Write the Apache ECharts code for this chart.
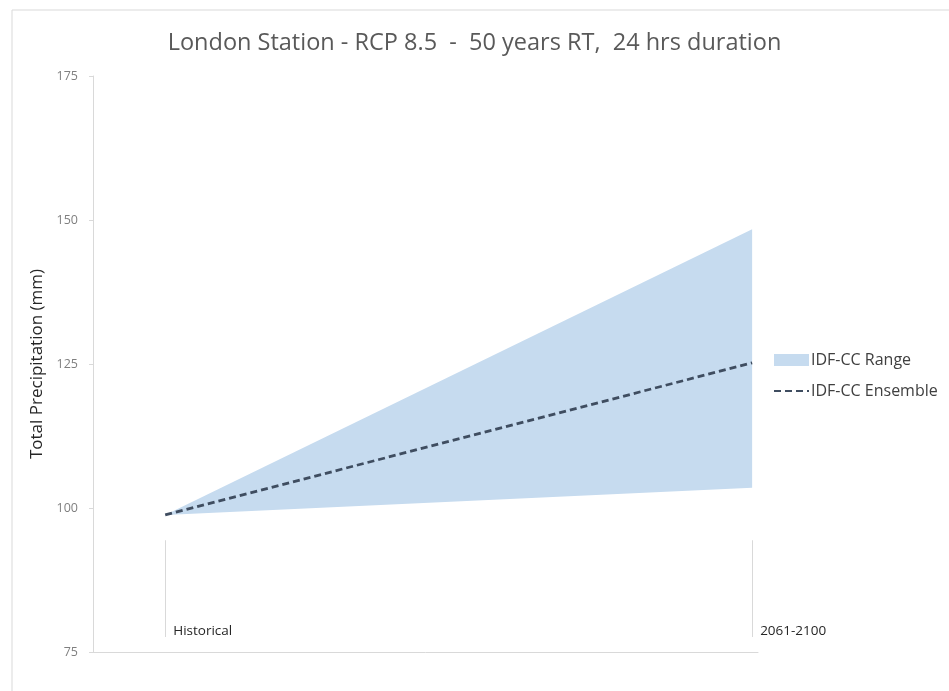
<!DOCTYPE html>
<html>
<head>
<meta charset="utf-8">
<script src="https://cdn.jsdelivr.net/npm/echarts@6/dist/echarts.min.js"></script>
<style>
  html, body { margin: 0; padding: 0; background: #ffffff; }
  #chart { width: 949px; height: 691px; }
</style>
</head>
<body>
<div id="chart"></div>
<script>
// Periods on the horizontal axis
const periods = ['Historical', '2061-2100'];
// Positions of the periods along the x axis
const periodPos = [0, 1];
// Climate-change range bounds and ensemble mean (mm)
const rangeLower = [98.8, 103.5];
const rangeUpper = [98.8, 148.4];
const ensemble = [98.8, 125.2];
// Y axis ticks
const yMin = 75, yMax = 175, yStep = 25;

const FONT = '"Open Sans", "Noto Sans", sans-serif';
const bandColor = '#c6dbef';
const lineColor = '#3f4d60';
const axisGrey = '#d9d9d9';

// Extent of the short separator lines above each period label (mm)
const sepTop = 94.4, sepBottom = 77.6;

const bandData = periodPos.map((x, i) => [x, rangeLower[i], rangeUpper[i]]);
const ensPts = periodPos.map((x, i) => [x, ensemble[i]]);

const chart = echarts.init(document.getElementById('chart'), null, { renderer: 'canvas' });

chart.setOption({
  backgroundColor: '#ffffff',
  animation: false,
  textStyle: { fontFamily: FONT },
  title: {
    text: 'London Station - RCP 8.5  -  50 years RT,  24 hrs duration',
    left: 'center',
    top: 26,
    textStyle: { fontFamily: FONT, fontSize: 23.5, fontWeight: 'normal', color: '#595959' }
  },
  graphic: [{
    type: 'rect',
    shape: { x: 12, y: 10, width: 960, height: 700 },
    style: { fill: 'none', stroke: axisGrey, lineWidth: 1 },
    silent: true,
    z: -1
  }],
  legend: {
    orient: 'vertical',
    left: 768,
    top: 347,
    itemWidth: 35,
    itemHeight: 12,
    itemGap: 15,
    textStyle: { fontFamily: FONT, fontSize: 16, color: '#404040', padding: [0, 0, 0, -3] },
    data: [
      { name: 'IDF-CC Range', icon: 'rect', itemStyle: { color: bandColor } },
      { name: 'IDF-CC Ensemble', itemStyle: { opacity: 0 } }
    ]
  },
  grid: { left: 93, top: 76, right: 191, bottom: 39, containLabel: false },
  xAxis: {
    type: 'value',
    min: -0.123,
    max: 1.01,
    axisLine: { show: true, onZero: false, lineStyle: { color: axisGrey, width: 1 } },
    axisTick: { show: false },
    splitLine: { show: false },
    axisLabel: {
      customValues: periodPos,
      inside: true,
      margin: 14,
      align: 'left',
      padding: [0, 0, 0, 8],
      fontFamily: FONT,
      fontSize: 13.5,
      color: '#262626',
      formatter: v => {
        const i = periodPos.indexOf(v);
        return i >= 0 ? periods[i] : '';
      }
    }
  },
  yAxis: {
    type: 'value',
    min: yMin,
    max: yMax,
    interval: yStep,
    name: 'Total Precipitation (mm)',
    nameLocation: 'middle',
    nameGap: 45,
    nameTextStyle: { fontFamily: FONT, fontSize: 17, color: '#262626' },
    axisLine: { show: true, onZero: false, lineStyle: { color: axisGrey, width: 1 } },
    axisTick: { show: true, length: 4, lineStyle: { color: axisGrey } },
    splitLine: { show: false },
    axisLabel: { fontFamily: FONT, fontSize: 12.5, color: '#7f7f7f', margin: 15 }
  },
  series: [
    {
      name: 'IDF-CC Range',
      type: 'custom',
      data: bandData,
      encode: { x: 0, y: [1, 2] },
      itemStyle: { color: bandColor },
      silent: true,
      z: 2,
      renderItem: (params, api) => {
        if (params.dataIndex !== 0) return null;
        const upper = periodPos.map((x, i) => api.coord([x, rangeUpper[i]]));
        const lower = periodPos.map((x, i) => api.coord([x, rangeLower[i]])).reverse();
        return {
          type: 'polygon',
          shape: { points: upper.concat(lower) },
          style: { fill: bandColor }
        };
      }
    },
    {
      name: 'IDF-CC Ensemble',
      type: 'line',
      data: ensPts,
      symbol: 'none',
      itemStyle: { color: lineColor },
      lineStyle: { color: lineColor, width: 2.8, type: [7, 4] },
      z: 5,
      markLine: {
        silent: true,
        symbol: 'none',
        label: { show: false },
        lineStyle: { color: axisGrey, width: 1, type: 'solid' },
        data: periodPos.map(x => [{ coord: [x, sepTop] }, { coord: [x, sepBottom] }])
      }
    }
  ]
});
</script>
</body>
</html>
